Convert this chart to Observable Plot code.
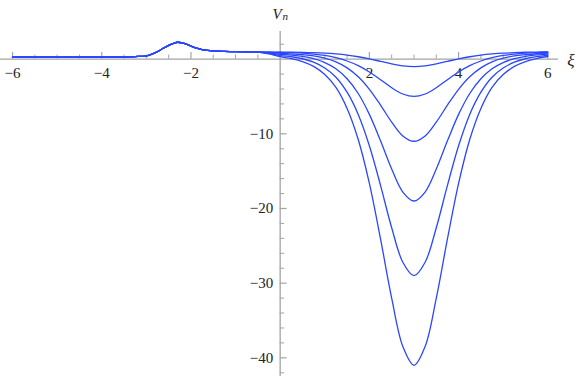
<!DOCTYPE html>
<html>
<head>
<meta charset="utf-8">
<script src="https://cdn.jsdelivr.net/npm/d3@7"></script>
<script src="https://cdn.jsdelivr.net/npm/@observablehq/plot@0.6"></script>
<style>
  html, body { margin: 0; padding: 0; background: #fff; }
  #chart { width: 581px; height: 376px; }
  #chart svg, #chart svg text { font-family: "Liberation Serif", "Times New Roman", serif !important; }
</style>
</head>
<body>
<div id="chart"></div>
<script>
// Shared part of all curves (xi from -6 to -0.5)
const commonXi = [-6, -5, -4, -3.5, -3.25, -3, -2.875, -2.75, -2.625, -2.5, -2.375, -2.3, -2.2, -2.1, -2, -1.875, -1.75, -1.625, -1.5, -1.25, -1, -0.75, -0.5];
const commonV  = [0.25, 0.25, 0.26, 0.28, 0.34, 0.45, 0.68, 1.0, 1.45, 1.85, 2.15, 2.26, 2.18, 2.0, 1.75, 1.48, 1.28, 1.16, 1.1, 1.04, 1.0, 0.97, 0.95];

// Well part (xi from -0.25 to 6)
const wellXi = [-0.25, 0, 0.25, 0.5, 0.75, 1, 1.25, 1.5, 1.75, 2, 2.25, 2.5, 2.75, 3, 3.25, 3.5, 3.75, 4, 4.25, 4.5, 4.75, 5, 5.25, 5.5, 5.75, 6];
const v1 = [0.94, 0.93, 0.93, 0.91, 0.87, 0.80, 0.69, 0.54, 0.32, 0.04, -0.30, -0.64, -0.90, -1.00, -0.90, -0.64, -0.30, 0.04, 0.32, 0.54, 0.69, 0.80, 0.87, 0.92, 0.95, 0.97];
const v2 = [0.93, 0.89, 0.86, 0.80, 0.675, 0.49, 0.19, -0.25, -0.87, -1.72, -2.75, -3.83, -4.67, -5.00, -4.67, -3.83, -2.75, -1.72, -0.87, -0.25, 0.19, 0.49, 0.675, 0.80, 0.87, 0.92];
const v3 = [0.90, 0.78, 0.71, 0.60, 0.44, 0.12, -0.37, -1.17, -2.36, -4.04, -6.16, -8.43, -10.28, -11.00, -10.28, -8.43, -6.16, -4.04, -2.36, -1.17, -0.37, 0.12, 0.44, 0.60, 0.72, 0.80];
const v4 = [0.85, 0.65, 0.55, 0.38, 0.06, -0.46, -1.28, -2.62, -4.60, -7.40, -10.94, -14.72, -17.80, -19.00, -17.80, -14.72, -10.94, -7.40, -4.60, -2.62, -1.28, -0.46, 0.06, 0.38, 0.56, 0.67];
const v5 = [0.78, 0.48, 0.32, 0.05, -0.41, -1.19, -2.42, -4.43, -7.40, -11.60, -16.91, -22.58, -27.20, -29.00, -27.20, -22.58, -16.91, -11.60, -7.40, -4.43, -2.42, -1.19, -0.41, 0.05, 0.33, 0.50];
const v6 = [0.70, 0.33, 0.07, -0.32, -0.97, -2.07, -3.79, -6.60, -10.76, -16.64, -24.07, -32.01, -38.48, -41.00, -38.48, -32.01, -24.07, -16.64, -10.76, -6.60, -3.79, -2.07, -0.97, -0.32, 0.08, 0.35];
const seriesN = [1, 2, 3, 4, 5, 6];
const wells = [v1, v2, v3, v4, v5, v6];

// Tick values
const xMajorTicks = [-6, -4, -2, 2, 4, 6];
const xMinorTicks = [-5.5, -5, -4.5, -3.5, -3, -2.5, -1.5, -1, -0.5, 0.5, 1, 1.5, 2.5, 3, 3.5, 4.5, 5, 5.5];
const yMajorTicks = [-10, -20, -30, -40];
const yMinorTicks = [2, -2, -4, -6, -8, -12, -14, -16, -18, -22, -24, -26, -28, -32, -34, -36, -38, -42];

const data = [];
seriesN.forEach((n, j) => {
  commonXi.forEach((x, i) => data.push({xi: x, v: commonV[i], n}));
  wellXi.forEach((x, i) => data.push({xi: x, v: wells[j][i], n}));
});

const fmt = d => d < 0 ? "\u2212" + Math.abs(d) : String(d);
const axisColor = "#a3a3a3";
const curveColor = "#2a46ff";
const serif = "Liberation Serif";

const chart = Plot.plot({
  width: 581,
  height: 376,
  marginLeft: 0,
  marginRight: 23,
  marginTop: 31,
  marginBottom: 0,
  x: {domain: [-6.27, 6.24], axis: null},
  y: {domain: [-42.5, 3.7], axis: null},
  style: {fontFamily: serif, background: "#fff", color: "#222", overflow: "visible"},
  marks: [
    Plot.ruleY([0], {stroke: axisColor, strokeWidth: 1.3}),
    Plot.ruleX([0], {stroke: axisColor, strokeWidth: 1.3}),
    Plot.ruleX(xMinorTicks, {x: d => d, y1: 0, y2: 0.55, stroke: axisColor, strokeWidth: 1}),
    Plot.ruleX(xMajorTicks, {x: d => d, y1: 0, y2: 0.9, stroke: axisColor, strokeWidth: 1.2}),
    Plot.ruleY(yMinorTicks, {y: d => d, x1: 0, x2: 0.1, stroke: axisColor, strokeWidth: 1}),
    Plot.ruleY(yMajorTicks, {y: d => d, x1: 0, x2: 0.155, stroke: axisColor, strokeWidth: 1.2}),
    Plot.text(xMajorTicks, {x: d => d, y: 0, dy: 14, text: fmt, fontSize: 15, fontFamily: serif, fill: "#222"}),
    Plot.text(yMajorTicks, {x: 0, y: d => d, dx: -7, textAnchor: "end", text: fmt, fontSize: 15, fontFamily: serif, fill: "#222"}),
    Plot.line(data, {x: "xi", y: "v", z: "n", stroke: curveColor, strokeWidth: 1.3, curve: "catmull-rom"}),
    Plot.text([0], {x: d => d, frameAnchor: "top", text: () => "V", dy: -23, dx: -3, fontStyle: "italic", fontSize: 15, fontFamily: serif, fill: "#222"}),
    Plot.text([0], {x: d => d, frameAnchor: "top", text: () => "n", dy: -19, dx: 5, fontStyle: "italic", fontSize: 11, fontFamily: serif, fill: "#222"}),
    Plot.text([0], {y: d => d, frameAnchor: "right", text: () => "\u03be", dx: 16, dy: 1, fontStyle: "italic", fontSize: 17, fontFamily: serif, fill: "#222"})
  ]
});
document.getElementById("chart").appendChild(chart);
</script>
</body>
</html>
